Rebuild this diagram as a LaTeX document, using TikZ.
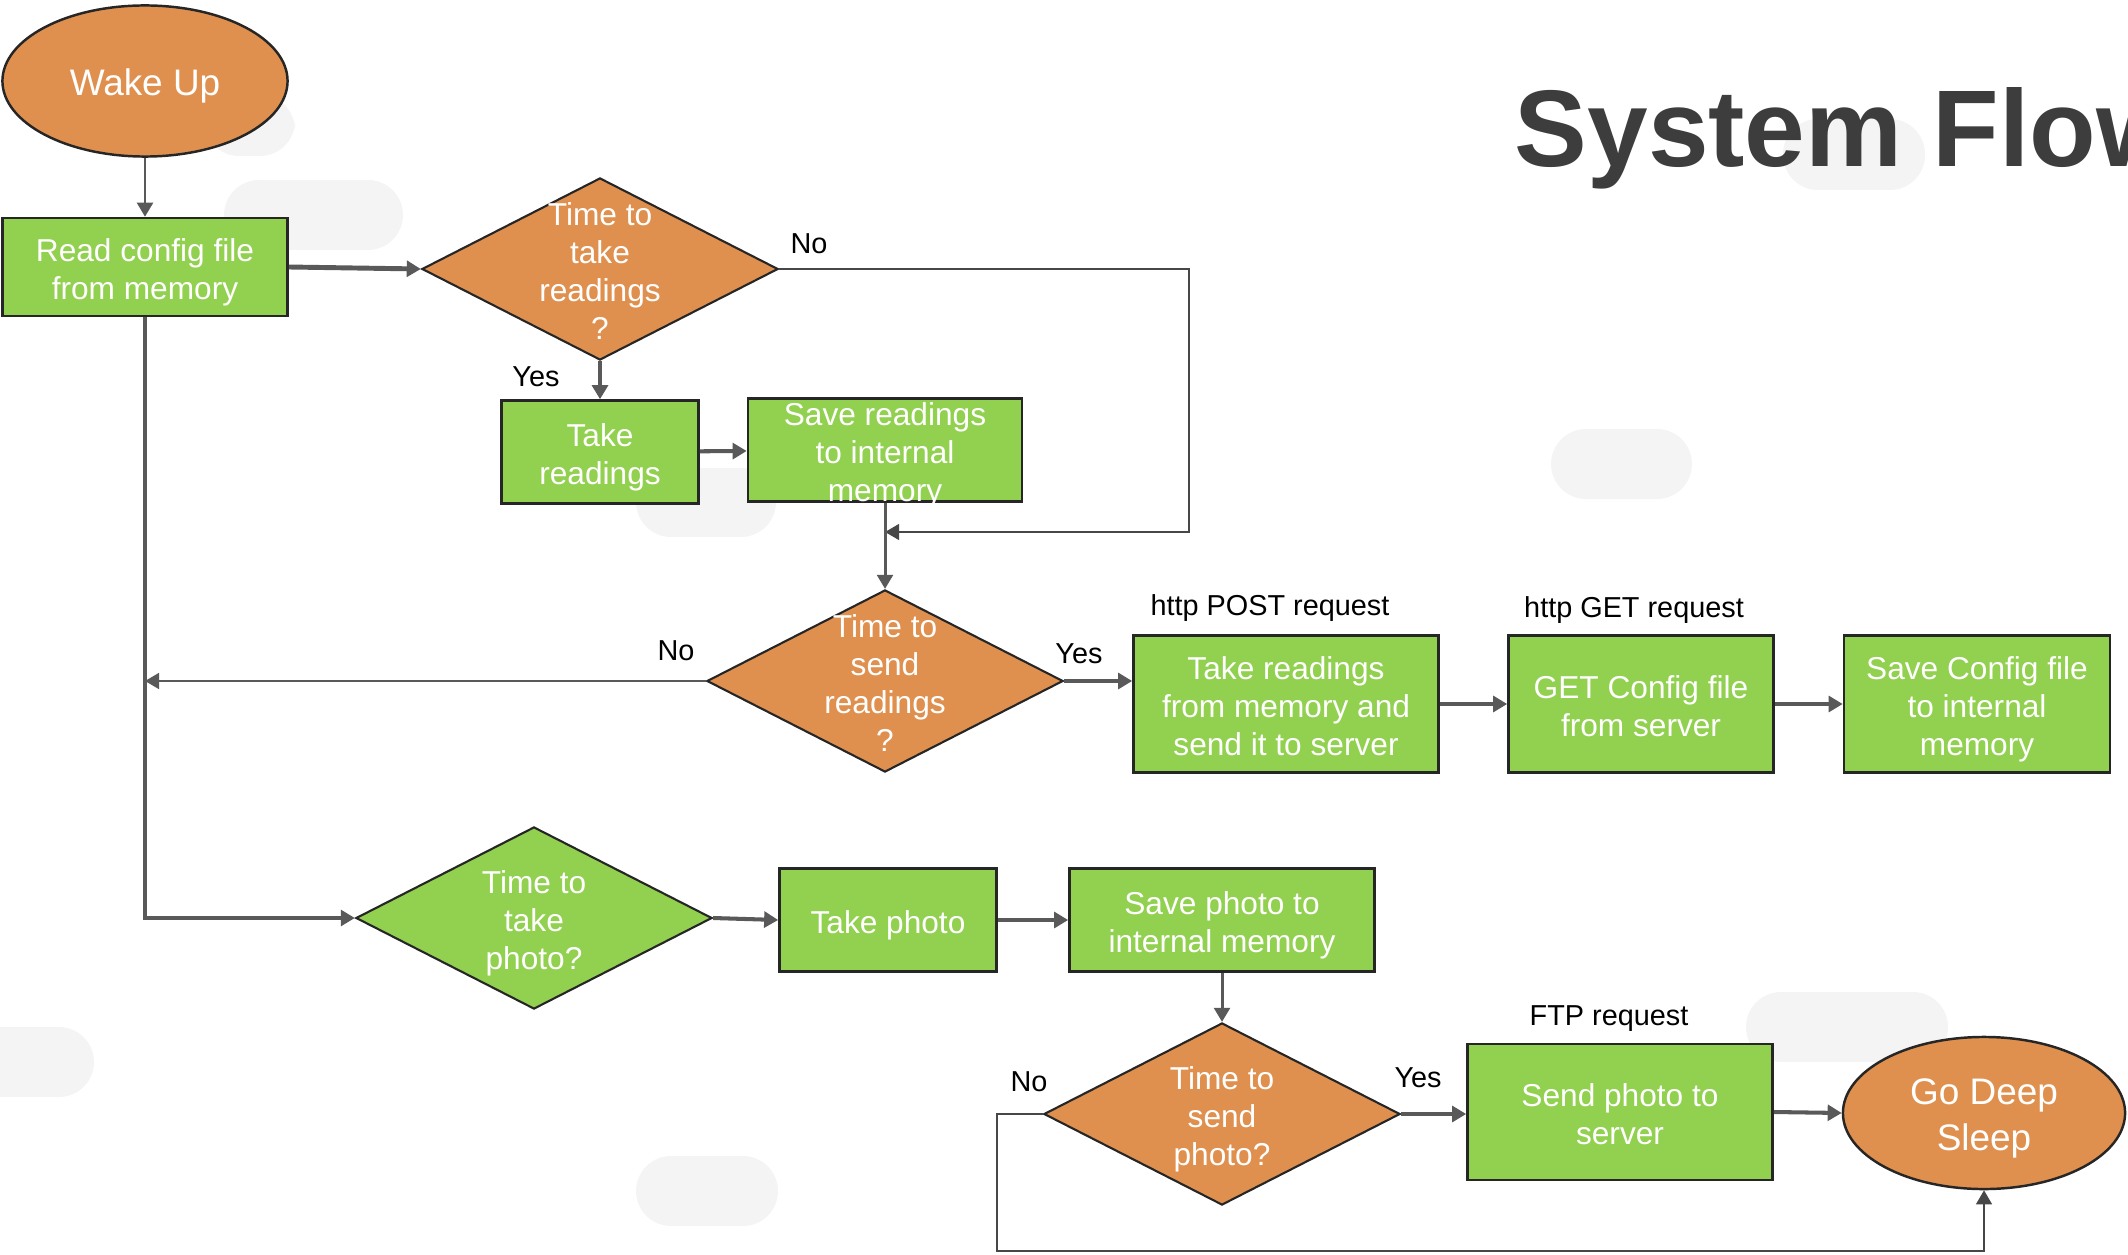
\documentclass[tikz,border=0pt]{standalone}
\usepackage{fontspec}
\setmainfont{Liberation Sans}
\usetikzlibrary{shapes.geometric,arrows.meta}

\definecolor{flowgreen}{HTML}{92D050}
\definecolor{floworange}{HTML}{E0904E}
\definecolor{flowline}{HTML}{595959}
\definecolor{flowedge}{HTML}{262626}
\definecolor{titlegray}{HTML}{3D3D3D}
\definecolor{blobgray}{HTML}{F4F4F4}

% centred text that does not size the shape
\newcommand{\fctext}[1]{\raisebox{\dimexpr-0.25em-1.55pt\relax}[0pt][0pt]{\makebox[0pt]{\begin{tabular}{@{}c@{}}#1\end{tabular}}}}

\begin{document}
\begin{tikzpicture}[x=0.01cm, y=-0.01cm,
        box/.style={rectangle, draw=flowedge, line width=0.7pt, fill=flowgreen, text=white,
            inner sep=0pt, font=\fontsize{9}{10.8}\selectfont},
        dec/.style={diamond, draw=flowedge, line width=0.6pt, fill=floworange, text=white,
            inner sep=0pt, minimum width=3.56cm, minimum height=1.82cm,
            font=\fontsize{9}{10.8}\selectfont},
        term/.style={ellipse, draw=flowedge, line width=0.7pt, fill=floworange, text=white,
            inner sep=0pt, font=\fontsize{10.5}{13}\selectfont},
        conn/.style={draw=flowline, line width=1.15pt, -{Triangle[length=4pt,width=4.5pt]}},
        lbl/.style={inner sep=0pt, font=\fontsize{8.2}{9.8}\selectfont},
        blob/.style={fill=blobgray, rounded corners=0.35cm}
    ]
    \useasboundingbox (0,0) rectangle (2128,1255);

    % background
    \fill[blob] (204,95) rectangle (295,156);
    \fill[blob] (224,180) rectangle (403,250);
    \fill[blob] (636,468) rectangle (776,537);
    \fill[blob] (1551,429) rectangle (1692,499);
    \fill[blob] (1783,119) rectangle (1925,190);
    \fill[blob] (-60,1027) rectangle (94,1097);
    \fill[blob] (636,1156) rectangle (778,1226);
    \fill[blob] (1746,992) rectangle (1948,1062);

    \node [anchor=base west, inner sep=0pt, text=titlegray,
        font=\bfseries\fontsize{31}{36}\selectfont] (title) at (1514,167) {System Flow};

    % readings
    \node [term, minimum width=2.85cm, minimum height=1.51cm] (wake) at (145,81) {\fctext{Wake Up}};
    \node [box, minimum width=2.85cm, minimum height=0.98cm] (readcfg) at (145,267) {\fctext{Read config file\\from memory}};
    \node [dec] (d1) at (600,269) {\fctext{Time to\\take\\readings\\?}};
    \node [box, minimum width=1.97cm, minimum height=1.03cm] (takeread) at (600,452) {\fctext{Take\\readings}};
    \node [box, minimum width=2.74cm, minimum height=1.03cm] (saveread) at (885,450) {\fctext{Save readings\\to internal\\memory}};
    \node [dec] (d2) at (885,681) {\fctext{Time to\\send\\readings\\?}};
    \node [box, minimum width=3.05cm, minimum height=1.37cm] (post) at (1286,704) {\fctext{Take readings\\from memory and\\send it to server}};
    \node [box, minimum width=2.65cm, minimum height=1.37cm] (getcfg) at (1641,704) {\fctext{GET Config file\\from server}};
    \node [box, minimum width=2.66cm, minimum height=1.37cm] (savecfg) at (1977,704) {\fctext{Save Config file\\to internal\\memory}};

    % photo
    \node [dec, fill=flowgreen] (d3) at (534,918) {\fctext{Time to\\take\\photo?}};
    \node [box, minimum width=2.17cm, minimum height=1.03cm] (takephoto) at (888,920) {\fctext{Take photo}};
    \node [box, minimum width=3.05cm, minimum height=1.03cm] (savephoto) at (1222,920) {\fctext{Save photo to\\internal memory}};
    \node [dec] (d4) at (1222,1114) {\fctext{Time to\\send\\photo?}};
    \node [box, minimum width=3.05cm, minimum height=1.36cm] (sendphoto) at (1620,1112) {\fctext{Send photo to\\server}};
    \node [term, minimum width=2.82cm, minimum height=1.52cm] (sleep) at (1984,1113) {\fctext{Go Deep\\Sleep}};

    \coordinate (c1) at (1189,532);
    \coordinate (c2) at (997,1251);

    % labels
    \node [lbl] (no1) at (809,244) {No};
    \node [lbl] (yes1) at (536,377) {Yes};
    \node [lbl] (no2) at (676,651) {No};
    \node [lbl] (yes2) at (1079,654) {Yes};
    \node [lbl] (no4) at (1029,1082) {No};
    \node [lbl] (yes4) at (1418,1078) {Yes};
    \node [lbl] (postlbl) at (1270,608) {http POST request};
    \node [lbl] (getlbl) at (1634,610) {http GET request};
    \node [lbl] (ftplbl) at (1609,1019) {FTP request};

    \draw [conn, line width=0.85pt] (wake) -- (readcfg);
    \draw [conn, line width=1.4pt] (readcfg.east) -- (d1.west);
    \draw [conn, line width=1pt] (d1.south) -- (takeread.north);
    \draw [conn] (takeread) -- (saveread);
    \draw [conn, line width=0.55pt, draw=flowedge!85] (d1.east) -| (c1) -- (saveread.south |- c1);
    \draw [conn, line width=0.85pt] (saveread.south) -- (d2.north);
    \draw [conn, line width=0.7pt] (d2.west) -- (readcfg.south |- d2.west);
    \draw [conn] (d2.east) -- (d2.east -| post.west);
    \draw [conn] (post.east) -- (getcfg.west);
    \draw [conn] (getcfg.east) -- (savecfg.west);

    \draw [conn, line width=1.4pt] (readcfg.south) |- (d3.west);
    \draw [conn] (d3.east) -- (takephoto.west);
    \draw [conn] (takephoto) -- (savephoto);
    \draw [conn, line width=0.85pt] (savephoto.south) -- (d4.north);
    \draw [conn] (d4.east) -- (d4.east -| sendphoto.west);
    \draw [conn] (sendphoto.east) -- (sleep.west);
    \draw [conn, line width=0.55pt, draw=flowedge!85] (d4.west) -| (c2) -| (sleep.south);
\end{tikzpicture}
\end{document}
